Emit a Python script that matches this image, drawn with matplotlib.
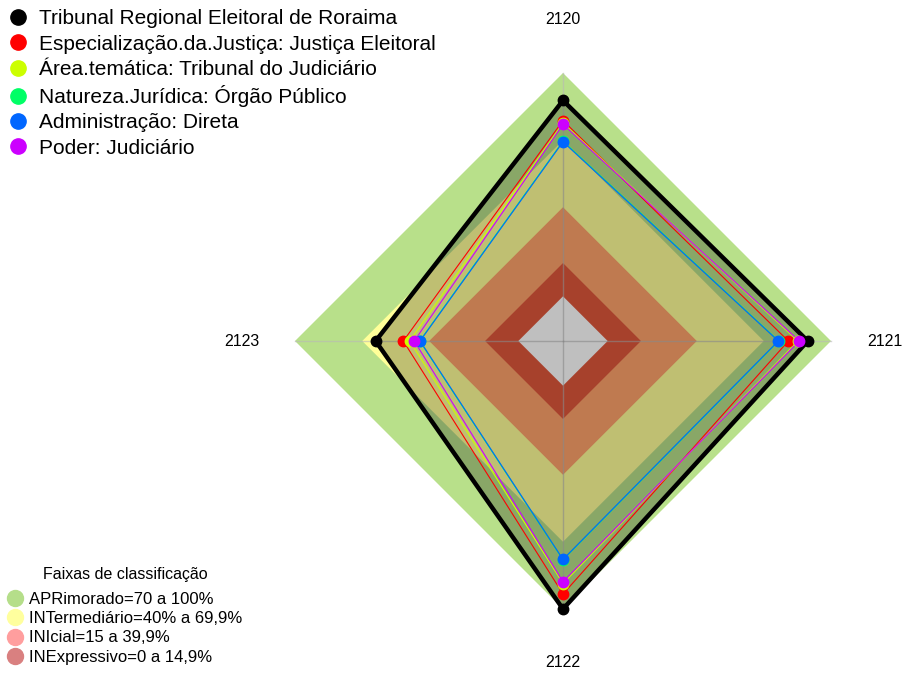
import numpy as np
import matplotlib.pyplot as plt
from matplotlib.lines import Line2D

plt.rcParams['font.family'] = ['Liberation Sans', 'DejaVu Sans']

# radar axes, clockwise from the top
axis_labels = ["2120", "2121", "2122", "2123"]

series_names = [
    "Tribunal Regional Eleitoral de Roraima",
    "Especialização.da.Justiça: Justiça Eleitoral",
    "Área.temática: Tribunal do Judiciário",
    "Natureza.Jurídica: Órgão Público",
    "Administração: Direta",
    "Poder: Judiciário",
]
series_colors = ["#000000", "#FF0000", "#CCFF00", "#00FF66", "#0066FF", "#CC00FF"]

# scores in %, one per axis
tribunal = [87.7, 89.6, 100.0, 63.9]
especializacao = [78.7, 80.9, 93.3, 51.5]
area_tematica = [77.6, 85.2, 88.6, 48.6]
natureza = [69.5, 76.6, 78.0, 44.2]
administracao = [69.2, 76.4, 77.8, 44.0]
poder = [77.0, 85.8, 87.8, 46.6]
series_values = [tribunal, especializacao, area_tematica, natureza, administracao, poder]

# classification bands
band_names = [
    "APRimorado=70 a 100%",
    "INTermediário=40% a 69,9%",
    "INIcial=15 a 39,9%",
    "INExpressivo=0 a 14,9%",
]
band_limits = [100, 69.9, 39.9, 14.9, 0]
band_fill = ["#B8E08A", "#FFFF99", "#FFA36B", "#E0573C", "#FFFFFF"]
band_legend_colors = ["#B5DE8A", "#FFFF9E", "#FF9E9E", "#D98080"]

n = len(axis_labels)
theta = np.pi / 2 - np.arange(n) * 2 * np.pi / n
seg = 5


def radius(vals):
    # fmsb style: centre is offset by 1/(seg+1)
    return 1 / (seg + 1) + np.asarray(vals, dtype=float) / 100 * seg / (seg + 1)


def polygon(vals):
    r = radius(vals)
    x = r * np.cos(theta)
    y = r * np.sin(theta)
    return np.append(x, x[0]), np.append(y, y[0])


fig = plt.figure(figsize=(9.05, 6.73), dpi=100)
ax = fig.add_axes([0, 0, 1, 1])
scale = 268.0
ax.set_xlim(-563 / scale, (905 - 563) / scale)
ax.set_ylim(-(673 - 341) / scale, 341 / scale)
ax.axis("off")

for lim, col in zip(band_limits, band_fill):
    x, y = polygon([lim] * n)
    ax.fill(x, y, color=col, lw=0, zorder=1)

# axis spokes
for t in theta:
    ax.plot([0, np.cos(t)], [0, np.sin(t)], color="#B8B8B8", lw=1, alpha=0.6, zorder=2)

for i, t in enumerate(theta):
    ax.text(1.2 * np.cos(t), 1.2 * np.sin(t), axis_labels[i], fontsize=11.5,
            ha="center", va="center")

# main series filled with a translucent dark layer
x, y = polygon(tribunal)
ax.fill(x, y, color="black", alpha=0.25, lw=0, zorder=3)
ax.plot(x, y, color="black", lw=3.2, zorder=4, solid_joinstyle="miter")
ax.plot(x[:-1], y[:-1], "o", color="black", ms=7.5, zorder=5)

for vals, col in zip(series_values[1:], series_colors[1:]):
    x, y = polygon(vals)
    ax.plot(x, y, color=col, lw=0.8, zorder=4)
    ax.plot(x[:-1], y[:-1], "o", color=col, ms=7.5, zorder=5)

handles = [Line2D([], [], ls="none", marker="o", color=c, ms=11) for c in series_colors]
leg1 = ax.legend(handles, series_names, loc="upper left", bbox_to_anchor=(0.0, 1.0),
                 frameon=False, fontsize=15, handlelength=0.8, handletextpad=0.6,
                 labelspacing=0.3, borderaxespad=0.25, borderpad=0.2)
ax.add_artist(leg1)

handles2 = [Line2D([], [], ls="none", marker="o", color=c, ms=11.5) for c in band_legend_colors]
leg2 = ax.legend(handles2, band_names, loc="lower left", bbox_to_anchor=(0.0, 0.0),
                 frameon=False, fontsize=12, title="Faixas de classificação",
                 title_fontsize=11.5, handlelength=0.8, handletextpad=0.45,
                 labelspacing=0.26, borderaxespad=0.3, borderpad=0.2)
leg2._legend_box.sep = 7

fig.savefig("out.png", dpi=100)
